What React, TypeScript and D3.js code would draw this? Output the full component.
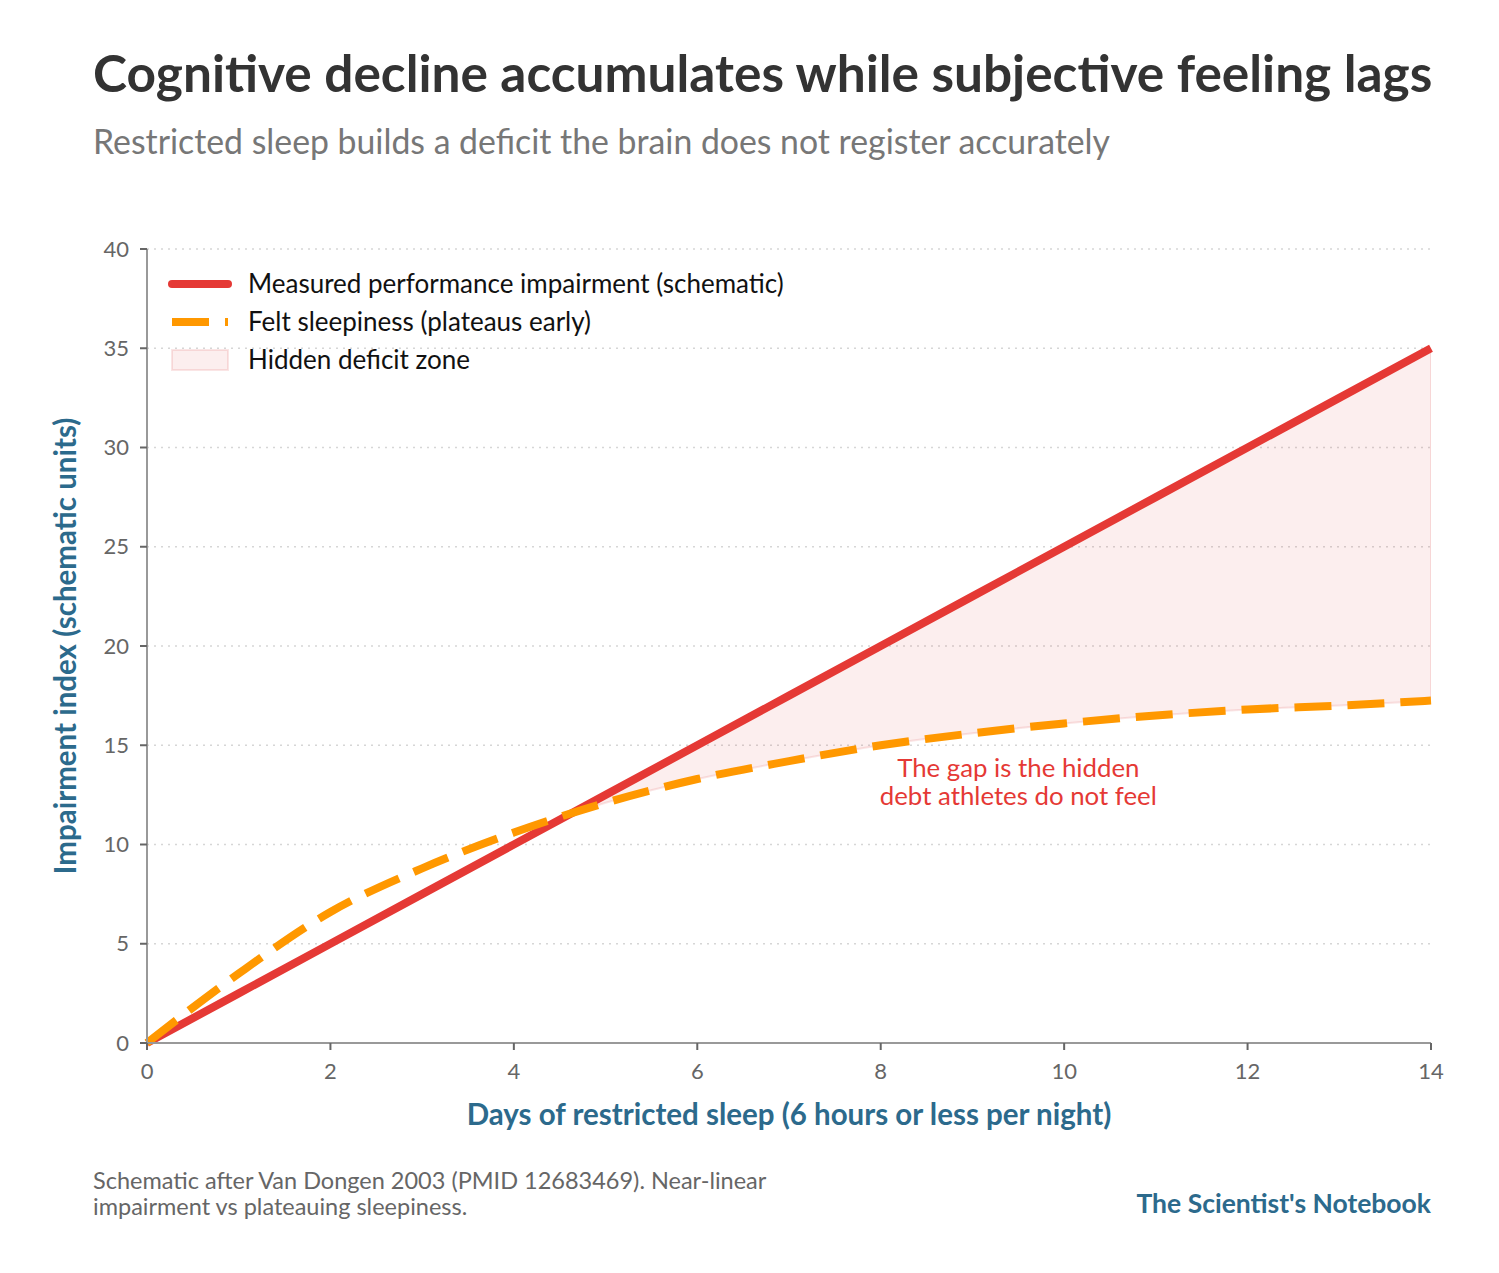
import { useMemo } from "react";
import * as d3 from "d3";

// Schematic: near-linear impairment vs plateauing sleepiness
const days = [0, 1, 2, 3, 4, 5, 6, 7, 8, 9, 10, 11, 12, 13, 14];
const measured = [0, 2.5, 5, 7.5, 10, 12.5, 15, 17.5, 20, 22.5, 25, 27.5, 30, 32.5, 35];
const felt = [0, 3.5, 6.6, 8.8, 10.6, 12.1, 13.3, 14.2, 15.0, 15.6, 16.1, 16.5, 16.8, 17.0, 17.25];
const xTicks = [0, 2, 4, 6, 8, 10, 12, 14];
const yTicks = [0, 5, 10, 15, 20, 25, 30, 35, 40];
const legendLabels = [
    "Measured performance impairment (schematic)",
    "Felt sleepiness (plateaus early)",
    "Hidden deficit zone",
];
const noteLines = ["The gap is the hidden", "debt athletes do not feel"];
const footLines = [
    "Schematic after Van Dongen 2003 (PMID 12683469). Near-linear",
    "impairment vs plateauing sleepiness.",
];

const W = 1499;
const H = 1273;
const FONT = "Lato, 'Open Sans', sans-serif";
const RED = "#e53935";
const ORANGE = "#ff9800";
const TEAL = "#2c6a8c";
const ZONE_FILL = "rgba(214,39,40,0.08)";
const ZONE_EDGE = "rgba(214,39,40,0.12)";

export default function App() {
    const margin = { top: 249, right: 68, bottom: 230, left: 147 };
    const innerW = W - margin.left - margin.right;
    const innerH = H - margin.top - margin.bottom;

    const x = useMemo(() => d3.scaleLinear().domain([0, 14]).range([0, innerW]), [innerW]);
    const y = useMemo(() => d3.scaleLinear().domain([0, 40]).range([innerH, 0]), [innerH]);

    const pts = days.map((d, i) => ({ d, m: measured[i], f: felt[i] }));

    const measuredLine = d3.line<typeof pts[number]>().x(p => x(p.d)).y(p => y(p.m));
    const feltLine = d3.line<typeof pts[number]>().x(p => x(p.d)).y(p => y(p.f)).curve(d3.curveMonotoneX);
    const gapArea = d3.area<typeof pts[number]>()
        .x(p => x(p.d)).y0(p => y(p.f)).y1(p => y(p.m)).curve(d3.curveMonotoneX);
    // clip: only the part below the measured line (where measured > felt)
    const belowMeasured = d3.area<typeof pts[number]>()
        .x(p => x(p.d)).y0(innerH + 10).y1(p => y(p.m));

    return (
        <>
            <style>{`body{margin:0}`}</style>
            <svg width={W} height={H} style={{ display: "block", background: "#fff" }} fontFamily={FONT}>
                <text x={93} y={92} fontSize={51.4} fontWeight={700} fill="#333">
                    Cognitive decline accumulates while subjective feeling lags
                </text>
                <text x={93} y={154} fontSize={33.8} fill="#777">
                    Restricted sleep builds a deficit the brain does not register accurately
                </text>

                <defs>
                    <clipPath id="below-measured">
                        <path d={belowMeasured(pts) ?? ""} />
                    </clipPath>
                </defs>

                <g transform={`translate(${margin.left},${margin.top})`}>
                    {/* grid */}
                    {yTicks.filter(t => t > 0).map(t => (
                        <line key={t} x1={0} x2={innerW} y1={y(t)} y2={y(t)}
                            stroke="#d6d6d6" strokeWidth={1.6} strokeDasharray="2,5" />
                    ))}

                    {/* hidden deficit */}
                    <path d={gapArea(pts) ?? ""} clipPath="url(#below-measured)"
                        fill={ZONE_FILL} stroke={ZONE_EDGE} strokeWidth={2} />

                    <path d={measuredLine(pts) ?? ""} fill="none" stroke={RED} strokeWidth={8} />
                    <path d={feltLine(pts) ?? ""} fill="none" stroke={ORANGE} strokeWidth={8}
                        strokeDasharray="37,16" />

                    {/* axes */}
                    <line x1={0} x2={0} y1={0} y2={innerH} stroke="#999" strokeWidth={2} />
                    <line x1={0} x2={innerW} y1={innerH} y2={innerH} stroke="#999" strokeWidth={2} />
                    {yTicks.map(t => (
                        <g key={t} transform={`translate(0,${y(t)})`}>
                            <line x1={-7} x2={0} stroke="#666" strokeWidth={2} />
                            <text x={-18} dy="0.35em" textAnchor="end" fontSize={22} fill="#666">{t}</text>
                        </g>
                    ))}
                    {xTicks.map(t => (
                        <g key={t} transform={`translate(${x(t)},${innerH})`}>
                            <line y1={0} y2={7} stroke="#666" strokeWidth={2} />
                            <text y={36} textAnchor="middle" fontSize={22} fill="#666">{t}</text>
                        </g>
                    ))}

                    <text x={innerW / 2} y={innerH + 82} textAnchor="middle" fontSize={29.5} fontWeight={700} fill={TEAL}>
                        Days of restricted sleep (6 hours or less per night)
                    </text>
                    <text transform={`translate(-71,${innerH / 2}) rotate(-90)`} textAnchor="middle"
                        fontSize={29.5} fontWeight={700} fill={TEAL}>
                        Impairment index (schematic units)
                    </text>

                    {/* annotation */}
                    <text x={x(9.5)} y={y(13.4)} textAnchor="middle" fontSize={25.8} fill={RED}>
                        {noteLines.map((l, i) => (
                            <tspan key={i} x={x(9.5)} dy={i === 0 ? 0 : 28}>{l}</tspan>
                        ))}
                    </text>

                    {/* legend */}
                    <g transform="translate(25,35)">
                        <line x1={0} x2={56} y1={0} y2={0} stroke={RED} strokeWidth={8} strokeLinecap="round" />
                        <line x1={0} x2={56} y1={38} y2={38} stroke={ORANGE} strokeWidth={8} strokeDasharray="37,16" />
                        <rect x={0} y={66} width={56} height={20} fill={ZONE_FILL} stroke={ZONE_EDGE} strokeWidth={2} />
                        {legendLabels.map((l, i) => (
                            <text key={l} x={76} y={i * 38} dy="0.35em" fontSize={26} fill="#111">{l}</text>
                        ))}
                    </g>
                </g>

                {footLines.map((l, i) => (
                    <text key={i} x={93} y={1189 + i * 25.5} fontSize={23.5} fill="#666">{l}</text>
                ))}
                <text x={1431} y={1213} textAnchor="end" fontSize={26.5} fontWeight={700} fill={TEAL}>
                    The Scientist's Notebook
                </text>
            </svg>
        </>
    );
}
